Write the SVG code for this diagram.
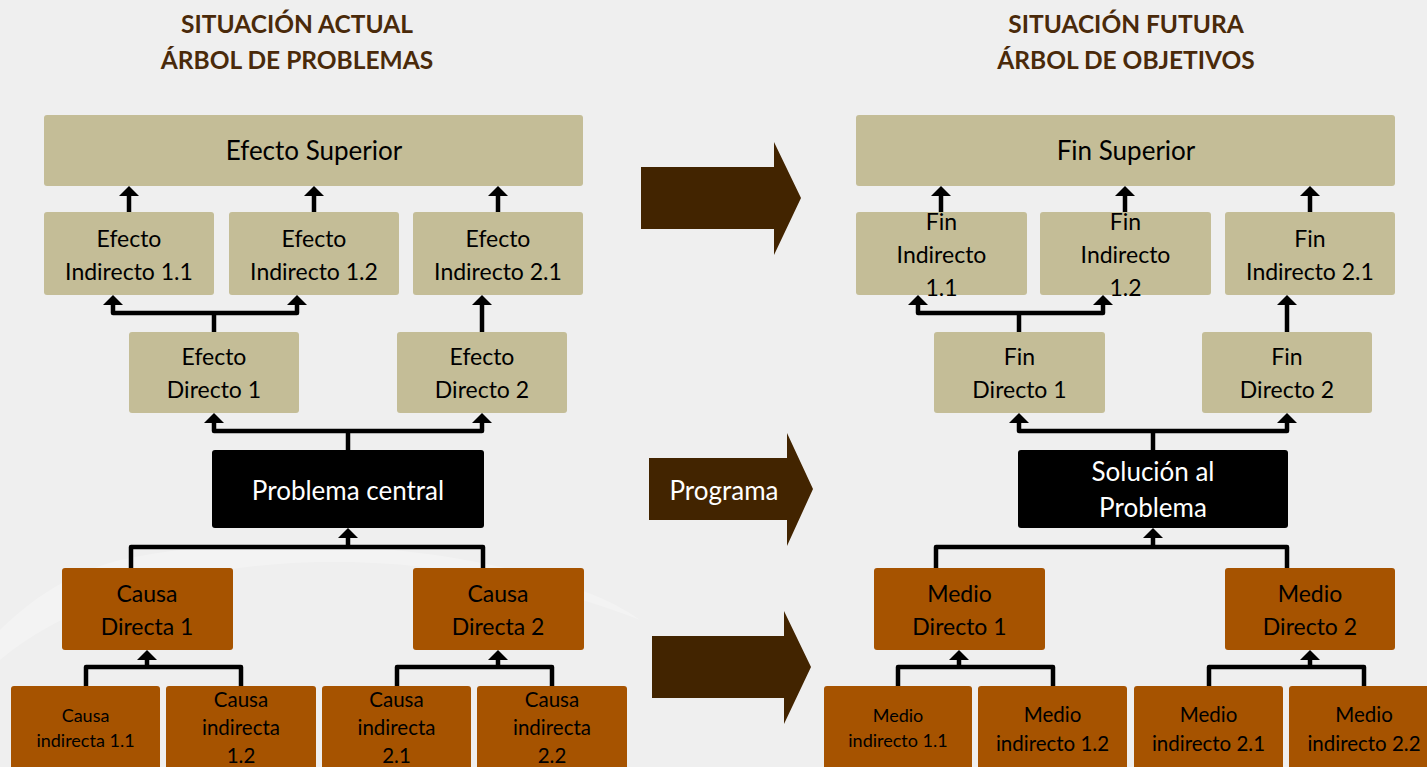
<svg xmlns="http://www.w3.org/2000/svg" width="1427" height="767" viewBox="0 0 1427 767">
<defs>
<style>
.tan{fill:#c4bd97}
.brn{fill:#a65300}
.blk{fill:#000}
.arw{fill:#422400}
.t{font-family:Lato,"Liberation Sans",sans-serif;text-anchor:middle;fill:#000}
.big{font-size:26px}
.med{font-size:23px}
.sm{font-size:18px}
.sm2{font-size:20.5px}
.w{fill:#fff}
.title{font-family:Lato,"Liberation Sans",sans-serif;text-anchor:middle;font-weight:bold;fill:#4a2a0a;font-size:24.5px}
.conn path{fill:none;stroke:#000;stroke-width:4.5;stroke-linejoin:round}
</style>
<marker id="ah" viewBox="0 0 10 20" refX="4" refY="10" markerWidth="10" markerHeight="20" markerUnits="userSpaceOnUse" orient="auto-start-reverse">
<path d="M0,0 L10,10 L0,20 z" fill="#000"/>
</marker>
</defs>
<rect x="0" y="0" width="1427" height="767" fill="#efefef"/>
<path d="M0,660 C120,560 380,520 640,620 C560,560 300,520 120,560 C60,575 20,610 0,630 Z" fill="#ffffff" opacity="0.25"/>

<g id="titles">
<text class="title" x="297" y="33">SITUACIÓN ACTUAL</text>
<text class="title" x="297" y="69">ÁRBOL DE PROBLEMAS</text>
<text class="title" x="1126" y="33">SITUACIÓN FUTURA</text>
<text class="title" x="1126" y="69">ÁRBOL DE OBJETIVOS</text>
</g>

<g id="connectors" class="conn">
<path d="M129,212 V192" marker-end="url(#ah)"/>
<path d="M314,212 V192" marker-end="url(#ah)"/>
<path d="M498,212 V192" marker-end="url(#ah)"/>
<path d="M214,332 V313"/>
<path d="M113,301 V313 H297 V301" marker-start="url(#ah)" marker-end="url(#ah)"/>
<path d="M482,332 V301" marker-end="url(#ah)"/>
<path d="M348,450 V431"/>
<path d="M214,419 V431 H482 V419" marker-start="url(#ah)" marker-end="url(#ah)"/>
<path d="M131,568 V547 H483 V568"/>
<path d="M348,547 V534" marker-end="url(#ah)"/>
<path d="M86,686 V667 H241 V686"/>
<path d="M147,667 V656" marker-end="url(#ah)"/>
<path d="M397,686 V667 H552 V686"/>
<path d="M498,667 V656" marker-end="url(#ah)"/>

<path d="M941,212 V192" marker-end="url(#ah)"/>
<path d="M1125,212 V192" marker-end="url(#ah)"/>
<path d="M1310,212 V192" marker-end="url(#ah)"/>
<path d="M1019,332 V313"/>
<path d="M918,301 V313 H1103 V301" marker-start="url(#ah)" marker-end="url(#ah)"/>
<path d="M1287,332 V301" marker-end="url(#ah)"/>
<path d="M1153,450 V431"/>
<path d="M1019,419 V431 H1287 V419" marker-start="url(#ah)" marker-end="url(#ah)"/>
<path d="M936,568 V547 H1287 V568"/>
<path d="M1153,547 V534" marker-end="url(#ah)"/>
<path d="M898,686 V667 H1053 V686"/>
<path d="M959,667 V656" marker-end="url(#ah)"/>
<path d="M1209,686 V667 H1364 V686"/>
<path d="M1310,667 V656" marker-end="url(#ah)"/>
</g>

<g id="efecto-superior"><rect class="tan" x="44" y="115" width="539" height="71" rx="3"/><text class="t big" x="314" y="160">Efecto Superior</text></g>
<g id="efecto-indirecto-1-1"><rect class="tan" x="44" y="212" width="170" height="83" rx="3"/><text class="t med" x="129" y="247">Efecto</text><text class="t med" x="129" y="280">Indirecto 1.1</text></g>
<g id="efecto-indirecto-1-2"><rect class="tan" x="229" y="212" width="170" height="83" rx="3"/><text class="t med" x="314" y="247">Efecto</text><text class="t med" x="314" y="280">Indirecto 1.2</text></g>
<g id="efecto-indirecto-2-1"><rect class="tan" x="413" y="212" width="170" height="83" rx="3"/><text class="t med" x="498" y="247">Efecto</text><text class="t med" x="498" y="280">Indirecto 2.1</text></g>
<g id="efecto-directo-1"><rect class="tan" x="129" y="332" width="170" height="81" rx="3"/><text class="t med" x="214" y="365">Efecto</text><text class="t med" x="214" y="398">Directo 1</text></g>
<g id="efecto-directo-2"><rect class="tan" x="397" y="332" width="170" height="81" rx="3"/><text class="t med" x="482" y="365">Efecto</text><text class="t med" x="482" y="398">Directo 2</text></g>
<g id="problema-central"><rect class="blk" x="212" y="450" width="272" height="78" rx="3"/><text class="t big w" x="348" y="500">Problema central</text></g>
<g id="causa-directa-1"><rect class="brn" x="62" y="568" width="171" height="82" rx="3"/><text class="t med" x="147" y="602">Causa</text><text class="t med" x="147" y="635">Directa 1</text></g>
<g id="causa-directa-2"><rect class="brn" x="413" y="568" width="171" height="82" rx="3"/><text class="t med" x="498" y="602">Causa</text><text class="t med" x="498" y="635">Directa 2</text></g>
<g id="causa-indirecta-1-1"><rect class="brn" x="11" y="686" width="149" height="90" rx="3"/><text class="t sm" x="85.5" y="722">Causa</text><text class="t sm" x="85.5" y="747">indirecta 1.1</text></g>
<g id="causa-indirecta-1-2"><rect class="brn" x="166" y="686" width="150" height="90" rx="3"/><text class="t sm2" x="241" y="707">Causa</text><text class="t sm2" x="241" y="735">indirecta</text><text class="t sm2" x="241" y="763">1.2</text></g>
<g id="causa-indirecta-2-1"><rect class="brn" x="322" y="686" width="149" height="90" rx="3"/><text class="t sm2" x="396.5" y="707">Causa</text><text class="t sm2" x="396.5" y="735">indirecta</text><text class="t sm2" x="396.5" y="763">2.1</text></g>
<g id="causa-indirecta-2-2"><rect class="brn" x="477" y="686" width="150" height="90" rx="3"/><text class="t sm2" x="552" y="707">Causa</text><text class="t sm2" x="552" y="735">indirecta</text><text class="t sm2" x="552" y="763">2.2</text></g>

<g id="flecha-1"><path class="arw" d="M641,167 H774 V142 L801,198 L774,255 V229 H641 Z"/></g>
<g id="flecha-programa"><path class="arw" d="M649,458 H787 V433 L813,489 L787,546 V520 H649 Z"/><text class="t big w" x="724" y="500">Programa</text></g>
<g id="flecha-3"><path class="arw" d="M652,636 H784 V611 L811,667 L784,724 V698 H652 Z"/></g>

<g id="fin-superior"><rect class="tan" x="856" y="115" width="539" height="71" rx="3"/><text class="t big" x="1126" y="160">Fin Superior</text></g>
<g id="fin-indirecto-1-1"><rect class="tan" x="856" y="212" width="171" height="83" rx="3"/><text class="t med" x="941.5" y="230">Fin</text><text class="t med" x="941.5" y="263">Indirecto</text><text class="t med" x="941.5" y="296">1.1</text></g>
<g id="fin-indirecto-1-2"><rect class="tan" x="1040" y="212" width="171" height="83" rx="3"/><text class="t med" x="1125.5" y="230">Fin</text><text class="t med" x="1125.5" y="263">Indirecto</text><text class="t med" x="1125.5" y="296">1.2</text></g>
<g id="fin-indirecto-2-1"><rect class="tan" x="1225" y="212" width="170" height="83" rx="3"/><text class="t med" x="1310" y="247">Fin</text><text class="t med" x="1310" y="280">Indirecto 2.1</text></g>
<g id="fin-directo-1"><rect class="tan" x="934" y="332" width="171" height="81" rx="3"/><text class="t med" x="1019.5" y="365">Fin</text><text class="t med" x="1019.5" y="398">Directo 1</text></g>
<g id="fin-directo-2"><rect class="tan" x="1202" y="332" width="170" height="81" rx="3"/><text class="t med" x="1287" y="365">Fin</text><text class="t med" x="1287" y="398">Directo 2</text></g>
<g id="solucion"><rect class="blk" x="1018" y="450" width="270" height="78" rx="3"/><text class="t big w" x="1153" y="481">Solución al</text><text class="t big w" x="1153" y="517">Problema</text></g>
<g id="medio-directo-1"><rect class="brn" x="874" y="568" width="171" height="82" rx="3"/><text class="t med" x="959.5" y="602">Medio</text><text class="t med" x="959.5" y="635">Directo 1</text></g>
<g id="medio-directo-2"><rect class="brn" x="1225" y="568" width="170" height="82" rx="3"/><text class="t med" x="1310" y="602">Medio</text><text class="t med" x="1310" y="635">Directo 2</text></g>
<g id="medio-indirecto-1-1"><rect class="brn" x="824" y="686" width="148" height="90" rx="3"/><text class="t sm" x="898" y="722">Medio</text><text class="t sm" x="898" y="747">indirecto 1.1</text></g>
<g id="medio-indirecto-1-2"><rect class="brn" x="978" y="686" width="149" height="90" rx="3"/><text class="t sm2" x="1052.5" y="722">Medio</text><text class="t sm2" x="1052.5" y="751">indirecto 1.2</text></g>
<g id="medio-indirecto-2-1"><rect class="brn" x="1134" y="686" width="149" height="90" rx="3"/><text class="t sm2" x="1208.5" y="722">Medio</text><text class="t sm2" x="1208.5" y="751">indirecto 2.1</text></g>
<g id="medio-indirecto-2-2"><rect class="brn" x="1289" y="686" width="150" height="90" rx="3"/><text class="t sm2" x="1364" y="722">Medio</text><text class="t sm2" x="1364" y="751">indirecto 2.2</text></g>
</svg>
